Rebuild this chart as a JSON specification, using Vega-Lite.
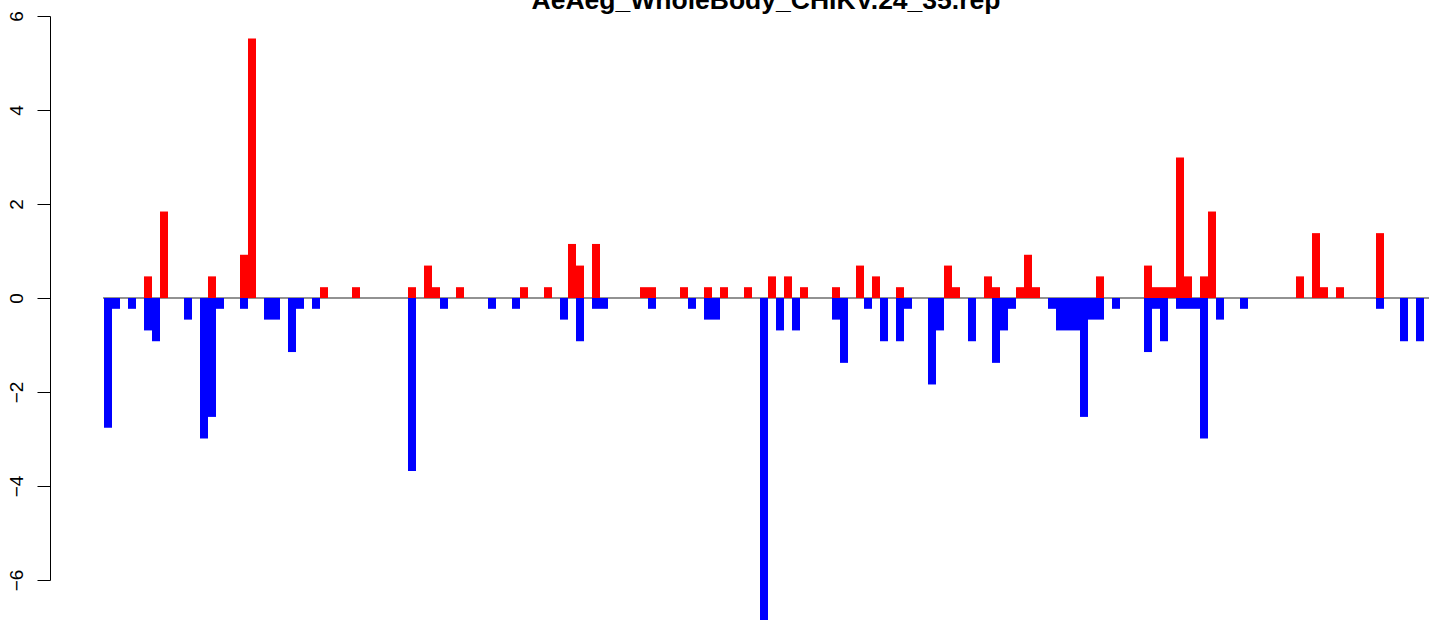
{
  "$schema": "https://vega.github.io/schema/vega-lite/v6.json",
  "width": 1326,
  "height": 564,
  "autosize": {"type": "none"},
  "padding": {"left": 103, "top": 16, "right": 0, "bottom": 40},
  "background": "white",
  "config": {"view": {"stroke": null}, "font": "Liberation Sans"},
  "title": {
    "text": "AeAeg_WholeBody_CHIKV.24_35.rep",
    "fontSize": 26.5,
    "fontWeight": "bold",
    "font": "Liberation Sans",
    "color": "black",
    "anchor": "middle",
    "baseline": "alphabetic",
    "offset": 0,
    "dy": 25
  },
  "datasets": {
    "bars": [
      {"pos": 6, "value": 0.46, "sign": "pos"},
      {"pos": 8, "value": 1.84, "sign": "pos"},
      {"pos": 14, "value": 0.46, "sign": "pos"},
      {"pos": 18, "value": 0.92, "sign": "pos"},
      {"pos": 19, "value": 5.52, "sign": "pos"},
      {"pos": 28, "value": 0.23, "sign": "pos"},
      {"pos": 32, "value": 0.23, "sign": "pos"},
      {"pos": 39, "value": 0.23, "sign": "pos"},
      {"pos": 41, "value": 0.69, "sign": "pos"},
      {"pos": 42, "value": 0.23, "sign": "pos"},
      {"pos": 45, "value": 0.23, "sign": "pos"},
      {"pos": 53, "value": 0.23, "sign": "pos"},
      {"pos": 56, "value": 0.23, "sign": "pos"},
      {"pos": 59, "value": 1.15, "sign": "pos"},
      {"pos": 60, "value": 0.69, "sign": "pos"},
      {"pos": 62, "value": 1.15, "sign": "pos"},
      {"pos": 68, "value": 0.23, "sign": "pos"},
      {"pos": 69, "value": 0.23, "sign": "pos"},
      {"pos": 73, "value": 0.23, "sign": "pos"},
      {"pos": 76, "value": 0.23, "sign": "pos"},
      {"pos": 78, "value": 0.23, "sign": "pos"},
      {"pos": 81, "value": 0.23, "sign": "pos"},
      {"pos": 84, "value": 0.46, "sign": "pos"},
      {"pos": 86, "value": 0.46, "sign": "pos"},
      {"pos": 88, "value": 0.23, "sign": "pos"},
      {"pos": 92, "value": 0.23, "sign": "pos"},
      {"pos": 95, "value": 0.69, "sign": "pos"},
      {"pos": 97, "value": 0.46, "sign": "pos"},
      {"pos": 100, "value": 0.23, "sign": "pos"},
      {"pos": 106, "value": 0.69, "sign": "pos"},
      {"pos": 107, "value": 0.23, "sign": "pos"},
      {"pos": 111, "value": 0.46, "sign": "pos"},
      {"pos": 112, "value": 0.23, "sign": "pos"},
      {"pos": 115, "value": 0.23, "sign": "pos"},
      {"pos": 116, "value": 0.92, "sign": "pos"},
      {"pos": 117, "value": 0.23, "sign": "pos"},
      {"pos": 125, "value": 0.46, "sign": "pos"},
      {"pos": 131, "value": 0.69, "sign": "pos"},
      {"pos": 132, "value": 0.23, "sign": "pos"},
      {"pos": 133, "value": 0.23, "sign": "pos"},
      {"pos": 134, "value": 0.23, "sign": "pos"},
      {"pos": 135, "value": 2.99, "sign": "pos"},
      {"pos": 136, "value": 0.46, "sign": "pos"},
      {"pos": 138, "value": 0.46, "sign": "pos"},
      {"pos": 139, "value": 1.84, "sign": "pos"},
      {"pos": 150, "value": 0.46, "sign": "pos"},
      {"pos": 152, "value": 1.38, "sign": "pos"},
      {"pos": 153, "value": 0.23, "sign": "pos"},
      {"pos": 155, "value": 0.23, "sign": "pos"},
      {"pos": 160, "value": 1.38, "sign": "pos"},
      {"pos": 1, "value": -2.76, "sign": "neg"},
      {"pos": 2, "value": -0.23, "sign": "neg"},
      {"pos": 4, "value": -0.23, "sign": "neg"},
      {"pos": 6, "value": -0.69, "sign": "neg"},
      {"pos": 7, "value": -0.92, "sign": "neg"},
      {"pos": 11, "value": -0.46, "sign": "neg"},
      {"pos": 13, "value": -2.99, "sign": "neg"},
      {"pos": 14, "value": -2.53, "sign": "neg"},
      {"pos": 15, "value": -0.23, "sign": "neg"},
      {"pos": 18, "value": -0.23, "sign": "neg"},
      {"pos": 21, "value": -0.46, "sign": "neg"},
      {"pos": 22, "value": -0.46, "sign": "neg"},
      {"pos": 24, "value": -1.15, "sign": "neg"},
      {"pos": 25, "value": -0.23, "sign": "neg"},
      {"pos": 27, "value": -0.23, "sign": "neg"},
      {"pos": 39, "value": -3.68, "sign": "neg"},
      {"pos": 43, "value": -0.23, "sign": "neg"},
      {"pos": 49, "value": -0.23, "sign": "neg"},
      {"pos": 52, "value": -0.23, "sign": "neg"},
      {"pos": 58, "value": -0.46, "sign": "neg"},
      {"pos": 60, "value": -0.92, "sign": "neg"},
      {"pos": 62, "value": -0.23, "sign": "neg"},
      {"pos": 63, "value": -0.23, "sign": "neg"},
      {"pos": 69, "value": -0.23, "sign": "neg"},
      {"pos": 74, "value": -0.23, "sign": "neg"},
      {"pos": 76, "value": -0.46, "sign": "neg"},
      {"pos": 77, "value": -0.46, "sign": "neg"},
      {"pos": 83, "value": -6.9, "sign": "neg"},
      {"pos": 85, "value": -0.69, "sign": "neg"},
      {"pos": 87, "value": -0.69, "sign": "neg"},
      {"pos": 92, "value": -0.46, "sign": "neg"},
      {"pos": 93, "value": -1.38, "sign": "neg"},
      {"pos": 96, "value": -0.23, "sign": "neg"},
      {"pos": 98, "value": -0.92, "sign": "neg"},
      {"pos": 100, "value": -0.92, "sign": "neg"},
      {"pos": 101, "value": -0.23, "sign": "neg"},
      {"pos": 104, "value": -1.84, "sign": "neg"},
      {"pos": 105, "value": -0.69, "sign": "neg"},
      {"pos": 109, "value": -0.92, "sign": "neg"},
      {"pos": 112, "value": -1.38, "sign": "neg"},
      {"pos": 113, "value": -0.69, "sign": "neg"},
      {"pos": 114, "value": -0.23, "sign": "neg"},
      {"pos": 119, "value": -0.23, "sign": "neg"},
      {"pos": 120, "value": -0.69, "sign": "neg"},
      {"pos": 121, "value": -0.69, "sign": "neg"},
      {"pos": 122, "value": -0.69, "sign": "neg"},
      {"pos": 123, "value": -2.53, "sign": "neg"},
      {"pos": 124, "value": -0.46, "sign": "neg"},
      {"pos": 125, "value": -0.46, "sign": "neg"},
      {"pos": 127, "value": -0.23, "sign": "neg"},
      {"pos": 131, "value": -1.15, "sign": "neg"},
      {"pos": 132, "value": -0.23, "sign": "neg"},
      {"pos": 133, "value": -0.92, "sign": "neg"},
      {"pos": 135, "value": -0.23, "sign": "neg"},
      {"pos": 136, "value": -0.23, "sign": "neg"},
      {"pos": 137, "value": -0.23, "sign": "neg"},
      {"pos": 138, "value": -2.99, "sign": "neg"},
      {"pos": 140, "value": -0.46, "sign": "neg"},
      {"pos": 143, "value": -0.23, "sign": "neg"},
      {"pos": 160, "value": -0.23, "sign": "neg"},
      {"pos": 163, "value": -0.92, "sign": "neg"},
      {"pos": 165, "value": -0.92, "sign": "neg"}
    ]
  },
  "layer": [
    {
      "data": {"values": [{"level": 0}]},
      "mark": {"type": "rule", "color": "#6e6e6e", "strokeWidth": 1.5},
      "encoding": {
        "y": {
          "field": "level",
          "type": "quantitative",
          "scale": {"domain": [-6, 6], "nice": false, "zero": false},
          "axis": {
            "values": [-6, -4, -2, 0, 2, 4, 6],
            "offset": 53,
            "tickSize": 13,
            "labelAngle": 270,
            "labelAlign": "center",
            "labelBaseline": "alphabetic",
            "labelPadding": 15,
            "labelFontSize": 19,
            "labelFont": "Liberation Sans",
            "labelColor": "black",
            "domainColor": "black",
            "tickColor": "black",
            "grid": false,
            "title": null,
            "labelFlush": false,
            "labelOverlap": false
          }
        }
      }
    },
    {
      "data": {"name": "bars"},
      "mark": {"type": "bar", "size": 8},
      "encoding": {
        "x": {
          "field": "pos",
          "type": "quantitative",
          "scale": {"domain": [0.375, 166.125], "nice": false, "zero": false, "padding": 0},
          "axis": null
        },
        "y": {
          "field": "value",
          "type": "quantitative",
          "scale": {"domain": [-6, 6], "nice": false, "zero": false},
          "axis": {
            "values": [-6, -4, -2, 0, 2, 4, 6],
            "offset": 53,
            "tickSize": 13,
            "labelAngle": 270,
            "labelAlign": "center",
            "labelBaseline": "alphabetic",
            "labelPadding": 15,
            "labelFontSize": 19,
            "labelFont": "Liberation Sans",
            "labelColor": "black",
            "domainColor": "black",
            "tickColor": "black",
            "grid": false,
            "title": null,
            "labelFlush": false,
            "labelOverlap": false
          }
        },
        "color": {
          "field": "sign",
          "type": "nominal",
          "scale": {"domain": ["pos", "neg"], "range": ["#FF0000", "#0000FF"]},
          "legend": null
        }
      }
    }
  ]
}
